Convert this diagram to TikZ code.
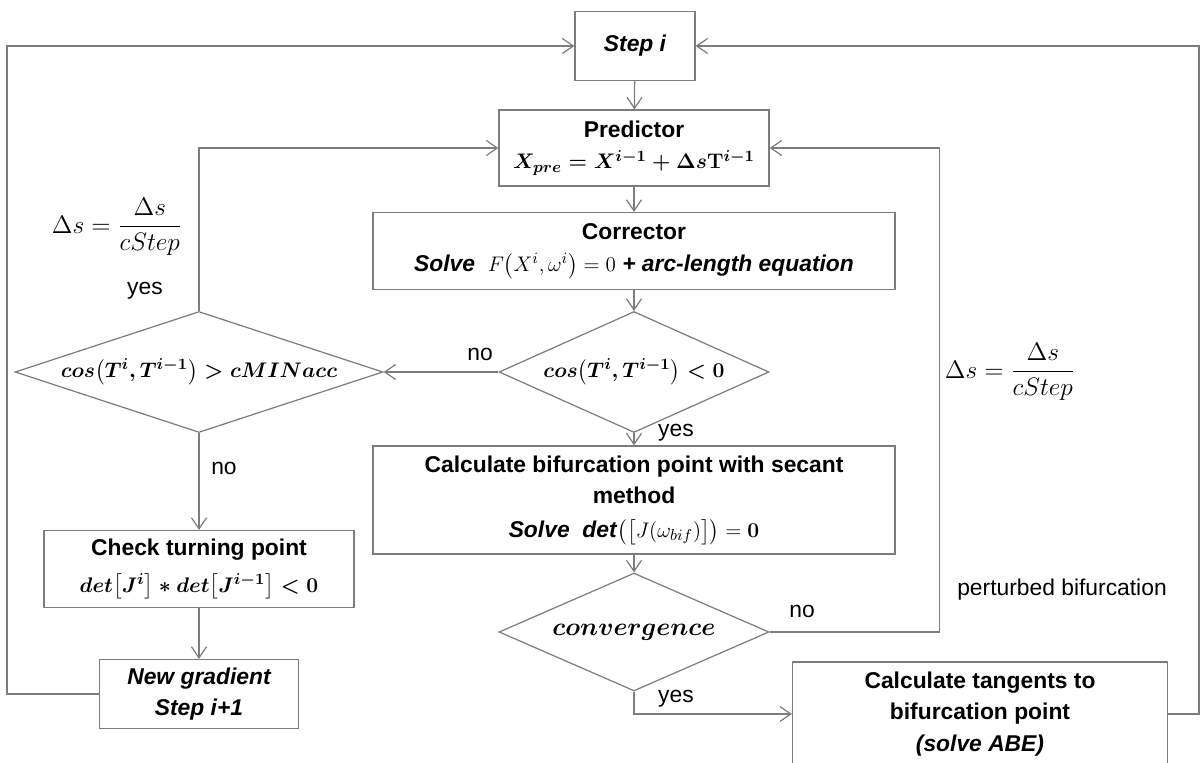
\documentclass[tikz,border=0pt]{standalone}
\usepackage{fontspec}
\setmainfont{Liberation Sans}
\usepackage{amsmath,bm}
\usetikzlibrary{arrows.meta,shapes.geometric}

\definecolor{linegray}{RGB}{125,125,125}
\newcommand{\fs}{\fontsize{13}{18}\selectfont}
\newcommand{\fm}{\fontsize{14.5}{18}\selectfont}

\begin{document}
\begin{tikzpicture}[x=0.02cm,y=-0.02cm,
    box/.style={draw=linegray,line width=0.7pt,inner sep=0pt,align=center,font=\fs\bfseries\boldmath},
    decision/.style={draw=linegray,line width=0.7pt,diamond,aspect=3,inner sep=0pt,font=\fs\boldmath},
    flow/.style={draw=linegray,line width=0.7pt,-{Straight Barb[length=2.2mm,width=3mm]}},
    lbl/.style={font=\fs,inner sep=0pt}]
    \useasboundingbox (0,0) rectangle (1200,763);

    % main column
    \node[box,font=\fs\bfseries\itshape,minimum width=2.4cm,minimum height=1.38cm] (step) at (635,46) {Step i};
    \node[box,minimum width=5.4cm,minimum height=1.52cm] (pred) at (634,148)
        {Predictor\\ $X_{pre}=X^{i-1}+\Delta s\mathbf{T}^{i-1}$};
    \node[box,minimum width=10.44cm,minimum height=1.54cm] (corr) at (634,251)
        {Corrector\\ \textit{Solve}~~{\unboldmath$F\bigl(X^{i},\omega^{i}\bigr)=0$} \textit{+ arc-length equation}};
    \node[decision,minimum width=5.4cm,minimum height=2.42cm] (cosneg) at (634,372)
        {$cos\bigl(T^{i},T^{i-1}\bigr)<0$};
    \node[box,minimum width=10.44cm,minimum height=2.16cm] (bif) at (634,500)
        {Calculate bifurcation point with secant\\ method\\[1pt] \textit{Solve~~det}{\unboldmath$\bigl(\bigl[J(\omega_{bif})\bigr]\bigr)=\boldsymbol{0}$}};
    \node[decision,font=\fontsize{14}{18}\selectfont\boldmath,minimum width=5.4cm,minimum height=2.36cm] (conv) at (634,632)
        {$convergence$};
    \node[box,minimum width=7.5cm,minimum height=2.08cm] (tang) at (980,714)
        {Calculate tangents to\\ bifurcation point\\ \textit{(solve ABE)}};

    % left column
    \node[decision,minimum width=7.36cm,minimum height=2.42cm] (cosacc) at (199,372)
        {$cos\bigl(T^{i},T^{i-1}\bigr)>cMINacc$};
    \node[box,minimum width=6.2cm,minimum height=1.54cm] (check) at (199,569)
        {Check turning point\\[3pt] $det\bigl[J^{i}\bigr]*det\bigl[J^{i-1}\bigr]<0$};
    \node[box,font=\fs\bfseries\itshape,minimum width=3.98cm,minimum height=1.38cm] (newgrad) at (199,694)
        {New gradient\\ Step i+1};

    % labels
    \node[lbl,font=\fm] (dsleft) at (117,227) {$\Delta s=\dfrac{\Delta s}{cStep}$};
    \node[lbl,font=\fm] (dsright) at (1010,372) {$\Delta s=\dfrac{\Delta s}{cStep}$};
    \node[lbl] (yesacc) at (145,291) {yes};
    \node[lbl] (noacc) at (224,468) {no};
    \node[lbl] (noneg) at (480,354) {no};
    \node[lbl] (yesneg) at (676,433) {yes};
    \node[lbl] (noconv) at (802,611) {no};
    \node[lbl] (yesconv) at (676,699) {yes};
    \node[lbl] (pert) at (1062,590) {perturbed bifurcation};

    % connectors
    \draw[flow] (step) -- (pred);
    \draw[flow] (pred) -- (corr);
    \draw[flow] (corr) -- (cosneg);
    \draw[flow] (cosneg) -- (bif);
    \draw[flow] (bif) -- (conv);
    \draw[flow] (cosneg.west) -- (cosacc.east);
    \draw[flow] (cosacc.north) |- (pred.west);
    \draw[flow] (cosacc.south) -- (check.north);
    \draw[flow] (check) -- (newgrad);
    \draw[flow] (newgrad.west) -- ++(-92,0) |- (step.west);
    \draw[flow] (conv.east) -- ++(170,0) |- (pred.east);
    \draw[flow] (conv.south) |- (tang.west);
    \draw[flow] (tang.east) -- ++(31,0) |- (step.east);
\end{tikzpicture}
\end{document}
